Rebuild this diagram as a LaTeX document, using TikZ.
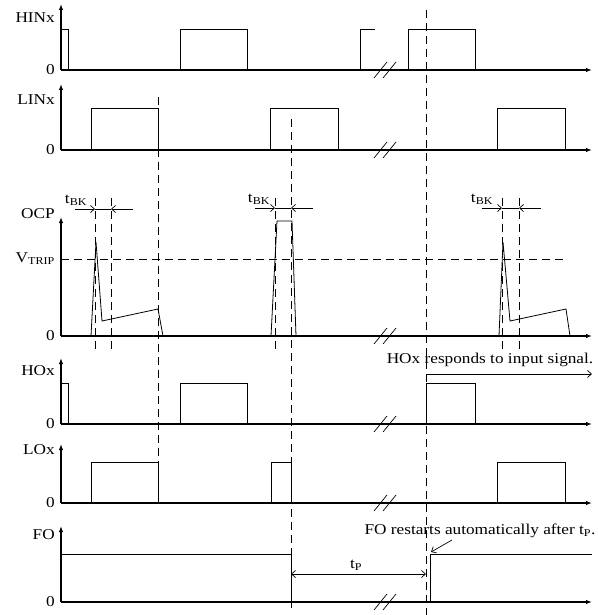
\documentclass[tikz,border=0pt]{standalone}
\usepackage{fontspec}
\setmainfont{Liberation Serif}[FakeStretch=1.15]
\usetikzlibrary{arrows.meta}

\tikzset{
  axis/.style={line width=1.3pt, -{Latex[length=6pt,width=4.5pt]}},
  sig/.style={line width=0.8pt},
  guide/.style={line width=0.8pt, dash pattern=on 8pt off 5pt},
  dimline/.style={line width=0.7pt, -{Straight Barb[length=4pt,width=7pt]}},
  lbl/.style={inner sep=1pt, font=\fontsize{15}{18}\selectfont},
  brk/.style={line width=0.7pt},
}

\begin{document}
\begin{tikzpicture}[x=1pt,y=-1pt]
\useasboundingbox (0,0) rectangle (597,615);

% Axes
\foreach \base/\ytop/\laby/\name/\txt in {70/4/18/hinx/HINx, 150/84/100/linx/LINx,
    336/217/214/ocp/OCP, 424/358/371/hox/HOx, 503/444/450/lox/LOx, 602/526/535/fo/FO}{
  \draw[axis] (61,\base) -- (61,\ytop);
  \draw[axis] (61,\base) -- (592,\base);
  \node[lbl, anchor=east] (\name) at (56,\laby) {\txt};
  \node[lbl, anchor=east] (\name0) at (56,\base) {0};
  % break
  \draw[brk] (374,\base+8) -- (387,\base-8);
  \draw[brk] (383,\base+8) -- (396,\base-8);
}

% Guides
\draw[guide] (158,97) -- (158,462);
\draw[guide] (291,119) -- (291,612);
\draw[guide] (426,10) -- (426,615);

% HINx
\draw[sig] (61,29) -- (68,29) -- (68,70);
\draw[sig] (180,70) -- (180,29) -- (247,29) -- (247,70);
\draw[sig] (360,70) -- (360,29) -- (375,29);
\draw[sig] (408,70) -- (408,29) -- (475,29) -- (475,70);

% LINx
\draw[sig] (91,150) -- (91,108) -- (158,108) -- (158,150);
\draw[sig] (270,150) -- (270,108) -- (338,108) -- (338,150);
\draw[sig] (497,150) -- (497,108) -- (565,108) -- (565,150);

% OCP
\node[lbl, anchor=east] (vtrip) at (56,259) {V\textsubscript{TRIP}};
\draw[guide] (61,259) -- (565,259);
\draw[sig] (91,336) -- (96,242) -- (102,321) -- (158,309) -- (163,336);
\draw[sig] (271,336) -- (277,221) -- (292,221) -- (296,336);
\draw[sig] (499,336) -- (503,242) -- (510,321) -- (566,309) -- (570,336);

% Blanking time
\draw[guide] (95,198) -- (95,352);
\draw[guide] (111,198) -- (111,352);
\draw[guide] (275,198) -- (275,352);
\draw[guide] (502,198) -- (502,352);
\draw[guide] (519,198) -- (519,352);
\node[lbl] (tbk1) at (76,200) {t\textsubscript{BK}};
\draw[dimline] (75,209) -- (95,209);
\draw[sig] (95,209) -- (111,209);
\draw[dimline] (133,209) -- (111,209);
\node[lbl] (tbk2) at (259,199) {t\textsubscript{BK}};
\draw[dimline] (255,208) -- (275,208);
\draw[sig] (275,208) -- (291,208);
\draw[dimline] (313,208) -- (291,208);
\node[lbl] (tbk3) at (482,199) {t\textsubscript{BK}};
\draw[dimline] (482,208) -- (502,208);
\draw[sig] (502,208) -- (519,208);
\draw[dimline] (541,208) -- (519,208);

% HOx
\draw[sig] (61,383) -- (68,383) -- (68,424);
\draw[sig] (180,424) -- (180,383) -- (247,383) -- (247,424);
\draw[sig] (426,424) -- (426,383) -- (475,383) -- (475,424);
\node[lbl] (respond) at (490,360) {HOx responds to input signal.};
\draw[dimline] (426,374) -- (592,374);

% LOx
\draw[sig] (91,503) -- (91,462) -- (158,462) -- (158,503);
\draw[sig] (271,503) -- (271,462) -- (291,462) -- (291,503);
\draw[sig] (497,503) -- (497,462) -- (565,462) -- (565,503);

% FO
\draw[sig] (61,554) -- (291,554) -- (291,602);
\draw[sig] (430,602) -- (430,554) -- (592,554);
\node[lbl] (tp) at (356,565) {t\textsubscript{P}};
\draw[dimline, {Straight Barb[length=4pt,width=7pt]}-{Straight Barb[length=4pt,width=7pt]}] (291,574) -- (426,574);
\node[lbl] (restart) at (480,531) {FO restarts automatically after t\textsubscript{P}.};
\coordinate (fo-up) at (431,552);
\draw[dimline] (452,540) -- (fo-up);

\end{tikzpicture}
\end{document}
